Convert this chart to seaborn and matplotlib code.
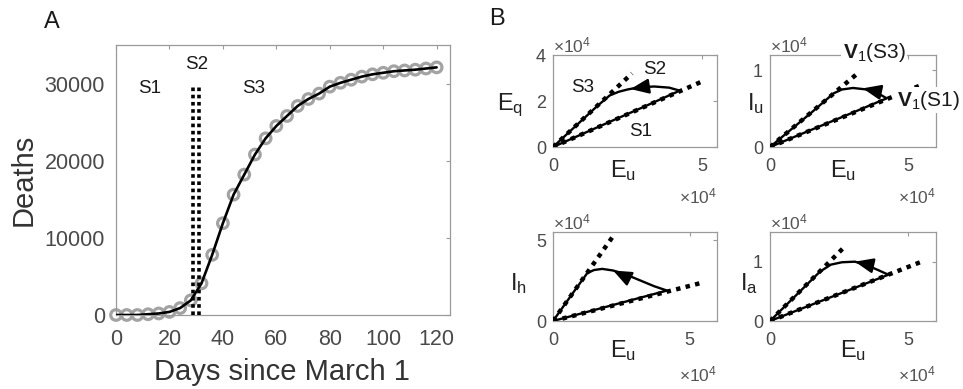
import matplotlib
matplotlib.use('Agg')
import matplotlib.pyplot as plt
import seaborn as sns

# ---- panel A data (deaths every 4 days) ----
days = list(range(0, 121, 4))
deaths = [0, 0, 0, 100, 200, 400, 900, 1900, 4100, 7800, 11900, 15600, 18200,
          20800, 22900, 24500, 25800, 27100, 28000, 28700, 29600, 30100, 30500,
          30900, 31200, 31400, 31600, 31700, 31800, 31950, 32100]
switch_days = [28.7, 31.1]
stage_x = [12.7, 30.2, 51.6]
stage_y = [29400, 32500, 29400]
stage_names = ['S1', 'S2', 'S3']

# ---- panel B data (units of 1e4), trajectory vs E_u ----
eq_eu = [0, 1.0, 2.0, 3.0, 4.25, 3.9, 3.4, 2.9, 2.5, 2.2, 1.9, 1.5, 1.0, 0.5, 0]
eq_val = [0, 0.575, 1.15, 1.72, 2.45, 2.58, 2.63, 2.6, 2.5, 2.4, 2.24, 1.8, 1.2, 0.6, 0]
iu_eu = [0, 1.5, 3.0, 4.22, 3.9, 3.5, 3.0, 2.6, 2.3, 1.5, 0.7, 0]
iu_val = [0, 0.225, 0.45, 0.635, 0.7, 0.75, 0.77, 0.75, 0.7, 0.45, 0.21, 0]
ih_eu = [0, 2.0, 4.17, 3.7, 3.2, 2.7, 2.2, 1.8, 1.5, 1.25, 0.8, 0]
ih_val = [0, 0.9, 1.88, 2.15, 2.5, 2.85, 3.12, 3.22, 3.15, 2.95, 1.9, 0]
ia_eu = [0, 2.0, 4.28, 3.9, 3.5, 3.07, 2.6, 2.2, 1.8, 1.0, 0]
ia_val = [0, 0.365, 0.78, 0.86, 0.94, 1.0, 0.99, 0.95, 0.83, 0.46, 0]

# eigenvector directions v1(S1), v1(S3): end points of dotted lines
eq_v1 = [[5.0, 2.85], [2.65, 3.2]]
iu_v1 = [[5.48, 0.81], [3.2, 0.97]]
ih_v1 = [[5.39, 2.34], [2.24, 5.34]]
ia_v1 = [[5.48, 1.0], [2.65, 1.23]]

# arrow [tail, tip]
eq_arrow = [[3.05, 2.61], [2.6, 2.52]]
iu_arrow = [[3.8, 0.73], [3.35, 0.765]]
ih_arrow = [[2.64, 2.75], [2.2, 3.12]]
ia_arrow = [[3.55, 0.95], [3.07, 1.0]]

ylabels = ['E$_q$', 'I$_u$', 'I$_h$', 'I$_a$']

sns.set_style('white')
plt.rcParams['font.family'] = ['Liberation Sans', 'DejaVu Sans']
plt.rcParams['mathtext.fontset'] = 'custom'
plt.rcParams['mathtext.rm'] = 'Liberation Sans'
plt.rcParams['mathtext.it'] = 'Liberation Sans'
plt.rcParams['mathtext.bf'] = 'Liberation Sans:bold'

W, H = 963, 389
fig = plt.figure(figsize=(W / 100, H / 100), dpi=100)


def box(l, t, r, b):
    return [l / W, 1 - b / H, (r - l) / W, (b - t) / H]


def px(x, y):
    return x / W, 1 - y / H


def style(ax, xpad, ypad, size):
    for s in ax.spines.values():
        s.set_color('#9a9a9a')
        s.set_linewidth(0.9)
    ax.tick_params(direction='in', length=3, color='#9a9a9a', top=True, right=True,
                   labelcolor='#4a4a4a', labelsize=size)
    ax.tick_params(axis='x', pad=xpad)
    ax.tick_params(axis='y', pad=ypad)


# ---------------- panel A ----------------
axA = fig.add_axes(box(116, 45, 450, 315))
sns.scatterplot(x=days, y=deaths, ax=axA, marker='o', s=58, facecolor='none',
                edgecolor='#a3a3a3', linewidth=2.3, clip_on=False, zorder=2)
sns.lineplot(x=days, y=deaths, ax=axA, color='black', lw=1.9, zorder=3)
axA.vlines(switch_days, 0, 30000, colors='black', linestyles=(0, (1, 1)), lw=2.6, zorder=4)
for sx, sy, name in zip(stage_x, stage_y, stage_names):
    axA.text(sx, sy, name, ha='center', va='center', fontsize=13.5, color='#1a1a1a')
axA.set_xlim(0, 125)
axA.set_ylim(0, 35000)
axA.set_xticks(range(0, 121, 20))
axA.set_yticks(range(0, 30001, 10000))
style(axA, 10, 8, 15.5)
fig.text(*px(24, 180), 'Deaths', rotation=90, ha='center', va='center', fontsize=21, color='#333333')
fig.text(*px(282, 380), 'Days since March 1', ha='center', va='baseline', fontsize=21, color='#333333')
fig.text(*px(52, 22), 'A', ha='center', va='center', fontsize=17, color='#1a1a1a')
fig.text(*px(497, 19), 'B', ha='center', va='center', fontsize=17, color='#1a1a1a')

# ---------------- panel B ----------------
boxes = [(553, 55, 717, 147), (770, 55, 936, 147), (553, 232, 717, 321), (770, 232, 936, 321)]
xlims = [5.5, 6, 6, 6]
ylims = [4, 1.2, 5.5, 1.5]
yticks = [[0, 2, 4], [0, 1], [0, 5], [0, 1]]
paths = [(eq_eu, eq_val), (iu_eu, iu_val), (ih_eu, ih_val), (ia_eu, ia_val)]
vecs = [eq_v1, iu_v1, ih_v1, ia_v1]
arrows = [eq_arrow, iu_arrow, ih_arrow, ia_arrow]
ylab_pos = [(497, 110), (747, 110), (510, 290), (740, 290)]
xlab_pos = [(610, 177), (830, 177), (610, 357), (840, 357)]

for i in range(4):
    l, t, r, b = boxes[i]
    ax = fig.add_axes(box(l, t, r, b))
    xs, ys = paths[i]
    for end in vecs[i]:
        sns.lineplot(x=[0, end[0]], y=[0, end[1]], ax=ax, color='black', lw=3.2,
                     linestyle=(0, (1, 1.2)), zorder=3)
    sns.lineplot(x=xs, y=ys, ax=ax, sort=False, estimator=None, color='black', lw=1.7, zorder=2)
    tail, tip = arrows[i]
    ax.annotate('', xy=tip, xytext=tail,
                arrowprops=dict(arrowstyle='-|>,head_length=1.1,head_width=0.45',
                                color='black', lw=1.7, mutation_scale=10,
                                shrinkA=0, shrinkB=0), zorder=4)
    ax.set_xlim(0, xlims[i])
    ax.set_ylim(0, ylims[i])
    ax.set_xticks([0, 5])
    ax.set_yticks(yticks[i])
    style(ax, 8, 5, 13)
    ax.text(0, 1.0, '\u00d710$^4$', transform=ax.transAxes, ha='left', va='bottom',
            fontsize=12.5, color='#555555')
    ax.text(1, -0.43 if i < 2 else -0.49, '\u00d710$^4$', transform=ax.transAxes,
            ha='right', va='top', fontsize=12.5, color='#555555')
    fig.text(*px(*ylab_pos[i]), ylabels[i], ha='left', va='baseline', fontsize=17, color='#222222')
    fig.text(*px(*xlab_pos[i]), 'E$_u$', ha='left', va='baseline', fontsize=17, color='#222222')

# stage labels in the E_q panel and eigenvector labels in the I_u panel
fig.text(*px(583, 88), 'S3', ha='center', va='center', fontsize=13.5, color='#1a1a1a')
fig.text(*px(655, 70), 'S2', ha='center', va='center', fontsize=13.5, color='#1a1a1a')
fig.text(*px(641, 132), 'S1', ha='center', va='center', fontsize=13.5, color='#1a1a1a')
fig.text(*px(874, 53), r'$\mathbf{V}_1$(S3)', ha='center', va='center', fontsize=15,
         color='#1a1a1a', bbox=dict(facecolor='white', edgecolor='none', pad=1))
fig.text(*px(928, 100), r'$\mathbf{V}_1$(S1)', ha='center', va='center', fontsize=15,
         color='#1a1a1a', bbox=dict(facecolor='white', edgecolor='none', pad=1))

fig.savefig('out.png', dpi=100)
